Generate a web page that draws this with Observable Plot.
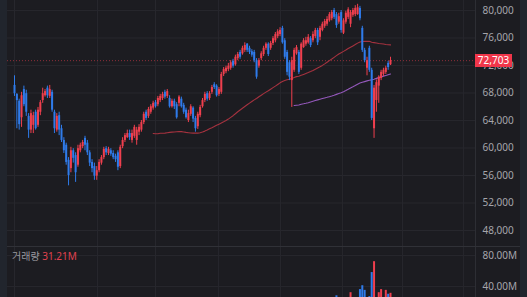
<!DOCTYPE html>
<html>
<head>
<meta charset="utf-8">
<script src="https://cdn.jsdelivr.net/npm/d3@7"></script>
<script src="https://cdn.jsdelivr.net/npm/@observablehq/plot@0.6"></script>
<style>
  body { margin: 0; background: #1c1c21; }
  #wrap { position: relative; width: 527px; height: 297px; overflow: hidden; background: #1c1c21;
          font-family: "Noto Sans", "Noto Sans CJK KR", sans-serif; }
  #wrap svg { position: absolute; left: 0; }
  .strip { position: absolute; top: 0; height: 297px; width: 7px; background: #21252d; }
</style>
</head>
<body>
<div id="wrap"></div>
<script>
// ---- data (daily candles, KRW) ----
const open = [69100,67800,66800,64400,68500,67900,64600,62600,63300,65200,
63300,65200,66900,67600,68700,67500,68100,65200,62600,64700,
62800,61100,60400,58200,57000,59600,58900,57500,59600,60200,
61400,60700,59300,57900,57300,55900,56700,57800,58600,59900,
59200,59600,59200,58800,59300,57300,60200,61100,61500,62100,
61100,61700,61100,62300,62600,63700,65200,64600,65200,65800,
66600,66300,66900,67200,68100,67500,67200,66000,66800,66300,
66500,67100,66200,65500,64000,64900,65800,64300,63100,64700,
66000,66900,67900,67200,68100,69200,69000,67800,68100,70700,
71100,71400,71600,72600,72100,73000,73900,73700,74200,75100,
74500,74000,73900,72700,71900,73000,73600,74500,75100,74500,
75200,75600,76200,76500,77400,75600,73900,72400,69800,71300,
73700,73900,71600,74600,75100,75300,75900,75600,76200,77100,
76100,77100,77700,78000,78500,78800,80000,79400,78300,79700,
76700,78300,79000,78000,79300,79400,79400,80300,77400,74200,
71600,74500,71300,62800,66900,69000,70100,70700,71000,72300,
72100];
const close = [67900,66900,63400,67600,66300,65200,62600,65000,64700,62800,
65500,66600,67900,68200,67600,68500,65500,62800,64600,62600,
61100,59600,57900,56000,59600,58500,56400,59900,60400,60800,
60400,59300,57800,57000,55900,56700,57900,58600,59800,59300,
59800,59100,58600,58300,57200,60100,61100,61800,62100,61500,
62100,63000,62600,63000,63700,64900,64300,65600,66000,66500,
66000,67200,67500,67800,67400,68200,66000,66800,66000,64400,
67400,66000,65200,64400,65000,66000,64200,62800,64900,65900,
66900,67800,67100,67900,68800,68800,67600,68500,70700,71400,
71600,71900,72400,71900,73200,73600,73200,74500,74900,74200,
73900,73500,72700,70300,72700,73700,74500,75100,73600,75200,
75900,76500,76900,77100,75300,73200,71000,70300,72700,74200,
74600,71000,75100,75600,75600,76100,74900,76500,77100,75300,
77400,78000,78400,78700,79400,79700,79000,77800,79100,77100,
78500,79600,80100,79700,80000,80300,80400,78800,74200,72700,
72700,71300,64300,68700,69500,70300,71000,71300,71600,71700,
72703];
const high = [70500,67900,67100,68100,69000,68400,65000,65500,65200,65500,
65900,66900,68700,68500,69000,69100,68400,65500,65000,65200,
63300,61500,60700,58600,60100,59900,59300,60400,60700,61100,
61700,61100,59600,58300,57800,57300,58300,58900,60100,60200,
60100,59900,59600,59100,59600,60400,61500,62100,62600,62600,
62600,63300,63000,63400,64000,65200,65500,65900,66300,66800,
66900,67500,67800,68100,68400,68500,67600,67100,67100,66600,
67600,67400,66500,65800,65500,66300,66000,64600,65200,66200,
67200,68100,68200,68200,69100,69500,69200,68800,71000,71700,
71900,72300,72700,72900,73500,73900,74200,74800,75300,75200,
74800,74300,74200,73000,73000,74000,74800,75300,75300,75500,
76200,76800,77200,77500,77700,75900,74200,72700,73200,74500,
74900,74200,75300,75900,76100,76500,76200,76900,77400,77400,
77700,78300,78700,79100,79700,80000,80300,79700,79600,80000,
78800,79900,80400,80000,80300,80700,80900,80600,77700,74500,
73200,74800,71600,69100,69900,70500,71300,71600,71900,72600,
73200];
const low = [67500,62800,62600,63000,66000,64600,61400,62100,62100,62600,
63000,64700,66500,67400,67200,67200,65200,62100,62300,61800,
60800,59200,57500,54500,56400,57800,55000,57200,59300,59900,
59600,58900,57300,56400,55300,55300,56400,57500,58300,58900,
58900,58800,58300,57900,56700,57000,59900,60800,61400,61100,
60700,61400,60400,61800,62300,63400,64000,64300,64900,65500,
65800,66000,66600,66900,67100,67200,65800,65800,65600,64200,
66000,65800,64900,64200,63700,64600,63700,62300,62700,64400,
65800,66600,66800,66900,67800,68500,67400,67500,67800,70400,
70800,71100,71300,71600,71900,72700,72900,73500,73900,73900,
73600,73200,72400,70000,71600,72700,73300,74200,73300,74200,
74900,75300,75900,76200,75100,72900,70500,69800,65900,71000,
73500,70700,71300,74500,74800,75100,74600,75300,75900,74900,
75600,76900,77400,77700,78300,78500,78700,77400,78000,76700,
76500,78000,78700,77500,79000,79100,79300,78500,73900,72400,
70500,71000,64000,61400,65200,66500,69800,70400,70700,71300,
72000];
// volume in millions of shares
const volumeM = [18,16,20,17,15,14,19,16,13,15,
14,12,13,11,12,11,15,18,14,16,
17,19,20,22,18,14,19,16,12,11,
10,12,14,13,16,13,12,11,12,10,
9,10,9,9,12,14,13,12,10,9,
10,12,9,10,11,13,10,11,12,10,
9,12,10,11,9,13,14,10,9,15,
13,10,11,13,10,9,12,14,11,10,
11,12,10,9,11,10,12,9,18,15,
13,11,12,10,14,12,10,13,15,12,
10,11,12,17,13,11,10,12,14,11,
12,13,14,12,16,18,20,19,24,17,
14,16,15,13,11,12,13,11,12,14,
15,14,16,15,18,17,20,28,19,22,
21,18,20,32,17,19,23,36,41,35,
22,27,58,72,24,32,36,22,35,30,
31.21];
const priceTicks = [48000,52000,56000,60000,64000,68000,72000,76000,80000];
const volumeTicks = [40,80];
const gridIdx = [0,35.3,60,86.8,113.2,139.6,165.1,191.1]; // vertical grid positions (candle index)
const maShort = 60, maLong = 120;
const volLabel = "거래량";

// ---- build table ----
const data = open.map((o, i) => ({
  i, open: o, close: close[i], high: high[i], low: low[i], vol: volumeM[i],
  up: close[i] >= o
}));
const UP = "#ef3f4e", DOWN = "#2f7bea", GRID = "#27272d", TXT = "#a5a5ab";
const col = d => d.up ? UP : DOWN;
const xDomain = [-2.98, 196.17];
const last = data[data.length - 1];

const wrap = document.getElementById("wrap");
const fontFamily = '"Noto Sans", "Noto Sans CJK KR", sans-serif';

const price = Plot.plot({
  width: 527, height: 246,
  marginLeft: 7, marginRight: 52, marginTop: 0, marginBottom: 0,
  style: {background: "transparent", color: TXT, fontSize: "10px", fontFamily},
  x: {domain: xDomain, axis: null},
  y: {domain: [45673, 81454], axis: "right", ticks: priceTicks, tickSize: 0, tickPadding: 7,
      tickFormat: d3.format(","), label: null},
  marks: [
    Plot.ruleY(priceTicks, {stroke: GRID, strokeWidth: 1}),
    Plot.ruleX(gridIdx, {stroke: GRID, strokeWidth: 1}),
    Plot.ruleY([last.close], {stroke: "#8e2f3a", strokeDasharray: "1,2", strokeWidth: 1}),
    Plot.lineY(data, Plot.windowY({k: maShort, anchor: "end", strict: true},
      {x: "i", y: "close", stroke: "#a5323f", strokeWidth: 1.1})),
    Plot.lineY(data, Plot.windowY({k: maLong, anchor: "end", strict: true},
      {x: "i", y: "close", stroke: "#9458bb", strokeWidth: 1.1})),
    Plot.ruleX(data, {x: "i", y1: "low", y2: "high", stroke: col, strokeWidth: 1}),
    Plot.ruleX(data, {x: "i", y1: "open", y2: "close", stroke: col, strokeWidth: 2})
  ]
});
price.style.top = "0px";

const volume = Plot.plot({
  width: 527, height: 71,
  marginLeft: 7, marginRight: 52, marginTop: 0, marginBottom: 0,
  style: {background: "transparent", color: TXT, fontSize: "10px", fontFamily},
  x: {domain: xDomain, axis: null},
  y: {domain: [0, 91.6], axis: "right", ticks: volumeTicks, tickSize: 0, tickPadding: 7,
      tickFormat: d => d3.format(".2f")(d) + "M", label: null},
  marks: [
    Plot.ruleY(volumeTicks, {stroke: GRID, strokeWidth: 1}),
    Plot.ruleX(gridIdx, {stroke: GRID, strokeWidth: 1}),
    Plot.ruleX(data, {x: "i", y1: 0, y2: "vol", stroke: col, strokeWidth: 2})
  ]
});
volume.style.top = "246px";

wrap.appendChild(price);
wrap.appendChild(volume);

// side strips and separators
const addDiv = (css, html) => {
  const d = document.createElement("div");
  d.style.cssText = "position:absolute;" + css;
  if (html) d.innerHTML = html;
  wrap.appendChild(d);
  return d;
};
addDiv("left:0;top:0;width:7px;height:297px;background:#21252d;");
addDiv("left:520px;top:0;width:7px;height:297px;background:#21252d;");
addDiv("left:475px;top:0;width:1px;height:297px;background:#2d2e34;");
addDiv("left:7px;top:246px;width:513px;height:1px;background:#303137;");

// current price tag, placed with the plot's y scale
const yPrice = price.scale("y").apply(last.close);
addDiv(`left:475px;top:${(yPrice - 6.5).toFixed(1)}px;width:37px;height:13px;background:#f0364a;
  color:#ffffff;font-size:10px;line-height:13px;text-align:center;`, d3.format(",")(last.close));

// volume legend
addDiv(`left:12px;top:250px;font-size:10px;line-height:12px;white-space:nowrap;`,
  `<span style="color:#9a9aa0">${volLabel}</span> <span style="color:#e0424f">${d3.format(".2f")(last.vol)}M</span>`);
</script>
</body>
</html>
